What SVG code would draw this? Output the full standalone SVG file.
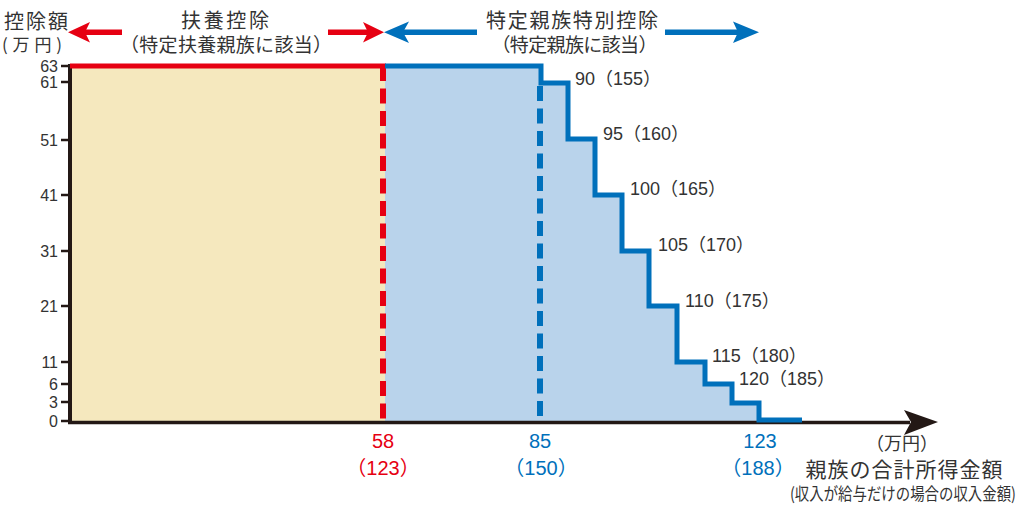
<svg xmlns="http://www.w3.org/2000/svg" width="1024" height="512" viewBox="0 0 1024 512">
<style>
.jp{font-family:"Noto Sans CJK JP","Noto Sans",sans-serif;fill:#333333}
.num{font-family:"Liberation Sans","Noto Sans CJK JP",sans-serif;fill:#333333}
.tick{font-family:"Liberation Sans",sans-serif;font-size:16px;fill:#333333;text-anchor:end}
.red{fill:#E60012}
.blue{fill:#0070BB}
.mid{text-anchor:middle}
</style>
<rect width="1024" height="512" fill="#ffffff"/>
<g id="areas">
<rect x="70" y="66" width="315" height="356" fill="#F5E8BE"/>
<polygon points="385,66 541,66 541,83 568,83 568,139 595,139 595,195 622,195 622,251 649,251 649,306 677,306 677,362 705,362 705,384 732,384 732,403 759,403 759,422 385,422" fill="#B9D3EB"/>
</g>
<g id="axes" stroke="#231815">
<line x1="70" y1="64" x2="70" y2="424" stroke-width="4"/>
<line x1="68" y1="422.5" x2="910" y2="422.5" stroke-width="3.5"/>
<polygon points="938,422 904,410 911,422 904,435" fill="#231815" stroke="none"/>
<g stroke-width="2.5">
<line x1="61" y1="66" x2="70" y2="66"/>
<line x1="61" y1="82" x2="70" y2="82"/>
<line x1="61" y1="140" x2="70" y2="140"/>
<line x1="61" y1="195" x2="70" y2="195"/>
<line x1="61" y1="251" x2="70" y2="251"/>
<line x1="61" y1="306" x2="70" y2="306"/>
<line x1="61" y1="362" x2="70" y2="362"/>
<line x1="61" y1="384" x2="70" y2="384"/>
<line x1="61" y1="402" x2="70" y2="402"/>
<line x1="61" y1="421" x2="70" y2="421"/>
</g>
</g>
<g id="tick-labels">
<text class="tick" x="58" y="71.5">63</text>
<text class="tick" x="58" y="87.5">61</text>
<text class="tick" x="58" y="145.5">51</text>
<text class="tick" x="58" y="200.5">41</text>
<text class="tick" x="58" y="256.5">31</text>
<text class="tick" x="58" y="311.5">21</text>
<text class="tick" x="58" y="367.5">11</text>
<text class="tick" x="58" y="389.5">6</text>
<text class="tick" x="58" y="407.5">3</text>
<text class="tick" x="58" y="426.5">0</text>
</g>
<g id="connectors" fill="none">
<line x1="383" y1="66" x2="383" y2="420" stroke="#E60012" stroke-width="6" stroke-dasharray="15 7.5"/>
<line x1="540" y1="86" x2="540" y2="420" stroke="#0070BB" stroke-width="6" stroke-dasharray="15 7.5"/>
<line x1="70" y1="66" x2="386" y2="66" stroke="#E60012" stroke-width="5"/>
<polyline points="385,66 541,66 541,83 568,83 568,139 595,139 595,195 622,195 622,251 649,251 649,306 677,306 677,362 705,362 705,384 732,384 732,403 759,403 759,420 802,420" stroke="#0070BB" stroke-width="5"/>
<line x1="85" y1="32.3" x2="122" y2="32.3" stroke="#E60012" stroke-width="5.5"/>
<polygon points="68,32.3 90,22 85,32.3 90,42.5" fill="#E60012"/>
<line x1="328" y1="32.3" x2="368" y2="32.3" stroke="#E60012" stroke-width="5.5"/>
<polygon points="384,32.3 363,22 368,32.3 363,42.5" fill="#E60012"/>
<line x1="403" y1="32.3" x2="477" y2="32.3" stroke="#0070BB" stroke-width="5.5"/>
<polygon points="384,32.3 409,21.5 403,32.3 409,43" fill="#0070BB"/>
<line x1="665" y1="32.3" x2="738" y2="32.3" stroke="#0070BB" stroke-width="5.5"/>
<polygon points="759,32.3 733,21.5 738,32.3 733,43" fill="#0070BB"/>
</g>
<g id="header-left">
<text class="jp" x="36" y="29" font-size="20" text-anchor="middle" textLength="64" lengthAdjust="spacing">控除額</text>
<text class="jp" x="2" y="50.5" font-size="17" textLength="60" lengthAdjust="spacing">(万円)</text>
</g>
<g id="header-fuyou">
<text class="jp" x="225" y="28" font-size="20" text-anchor="middle" textLength="88" lengthAdjust="spacing">扶養控除</text>
<text class="jp" x="226" y="51.5" font-size="19" text-anchor="middle" textLength="212" lengthAdjust="spacing">（特定扶養親族に該当）</text>
</g>
<g id="header-tokutei">
<text class="jp" x="572" y="28" font-size="20" text-anchor="middle" textLength="172" lengthAdjust="spacing">特定親族特別控除</text>
<text class="jp" x="574.5" y="51.5" font-size="19" text-anchor="middle" textLength="166" lengthAdjust="spacing">（特定親族に該当）</text>
</g>
<g id="step-labels" font-size="18">
<text class="num" x="575" y="85">90（155）</text>
<text class="num" x="603" y="140">95（160）</text>
<text class="num" x="630" y="195">100（165）</text>
<text class="num" x="658" y="250.5">105（170）</text>
<text class="num" x="685" y="306.5">110（175）</text>
<text class="num" x="712" y="361.5">115（180）</text>
<text class="num" x="739" y="385">120（185）</text>
</g>
<g id="x-labels" font-size="20" font-family="Liberation Sans, Noto Sans CJK JP, sans-serif">
<text class="red mid" x="383" y="448">58</text>
<text class="red mid" x="383" y="475">（123）</text>
<text class="blue mid" x="540" y="448">85</text>
<text class="blue mid" x="541" y="475">（150）</text>
<text class="blue mid" x="760" y="448">123</text>
<text class="blue mid" x="758" y="475">（188）</text>
</g>
<g id="x-title">
<text class="jp" x="902" y="450" font-size="18" text-anchor="middle">（万円）</text>
<text class="jp" x="904" y="477" font-size="21" text-anchor="middle" textLength="197" lengthAdjust="spacing">親族の合計所得金額</text>
<text class="jp" x="903" y="500" font-size="17" text-anchor="middle" textLength="226" lengthAdjust="spacingAndGlyphs">(収入が給与だけの場合の収入金額)</text>
</g>
</svg>
